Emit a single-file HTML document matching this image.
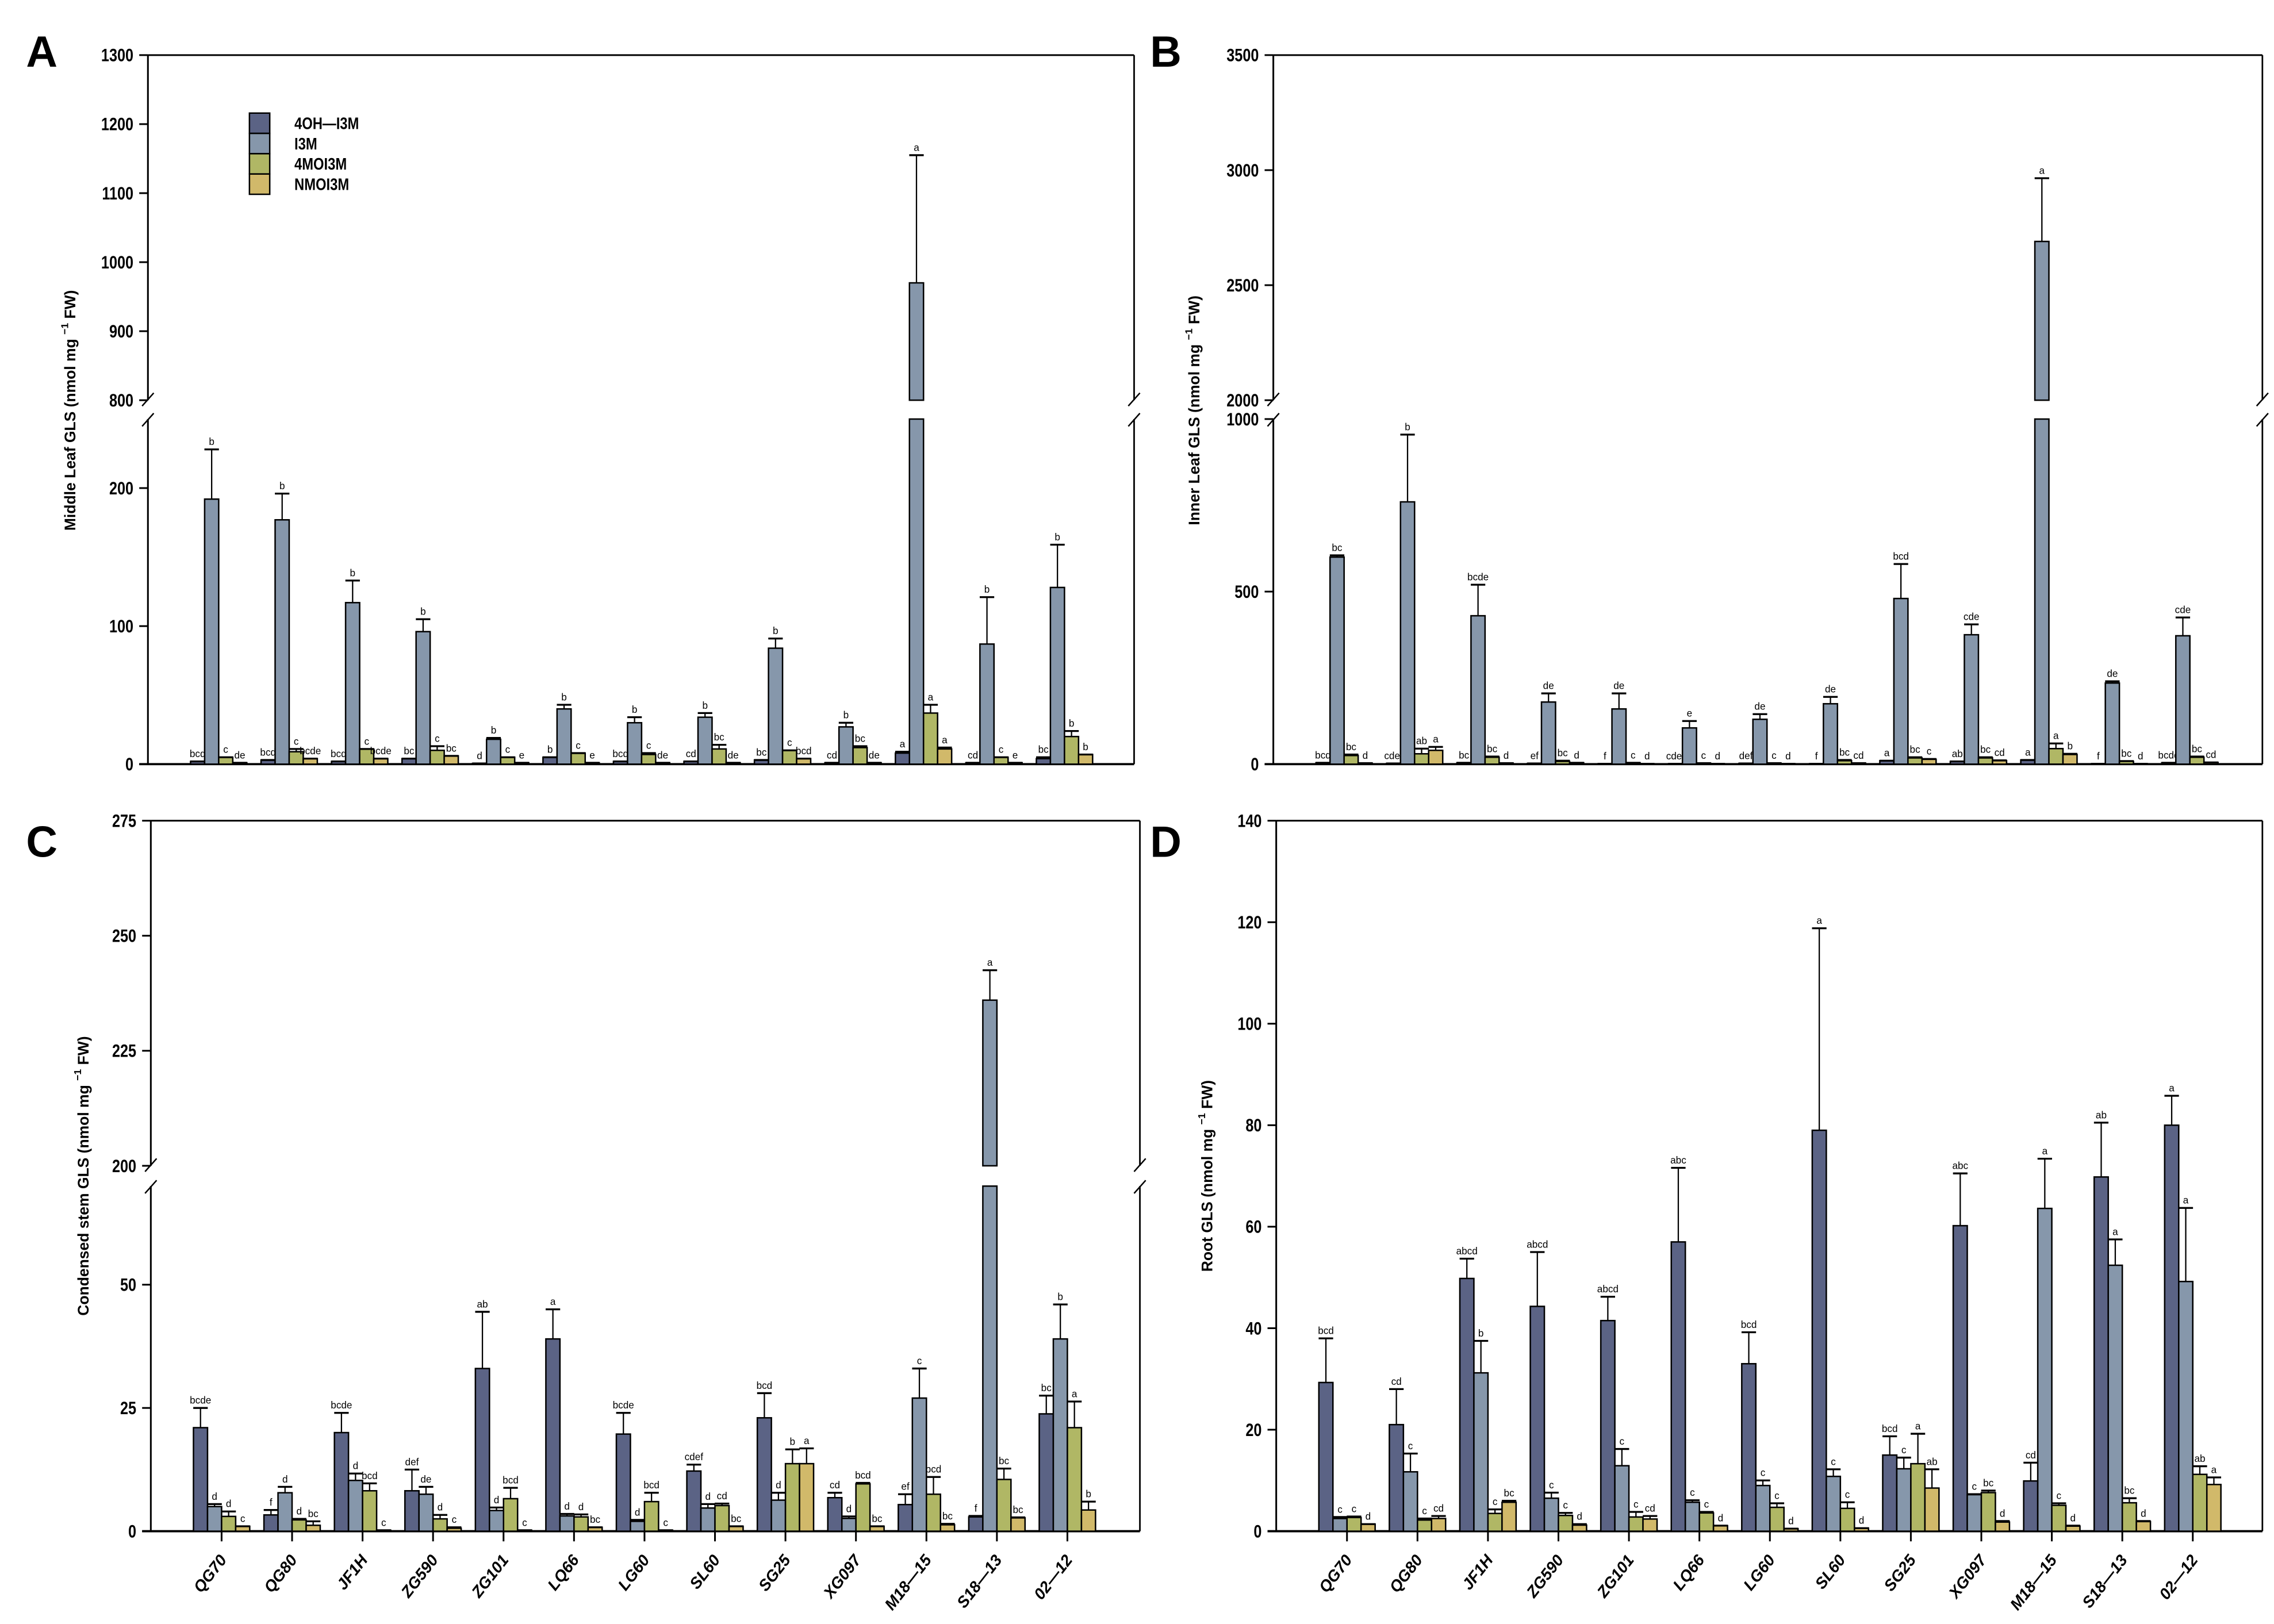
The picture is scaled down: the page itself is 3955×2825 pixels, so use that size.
<!DOCTYPE html>
<html><head><meta charset="utf-8"><style>
html,body{margin:0;padding:0;background:#fff;}
svg{display:block;}
text{font-family:"Liberation Sans",sans-serif;}
</style></head><body>
<svg id="fig" xmlns="http://www.w3.org/2000/svg" width="3955" height="2825" viewBox="0 0 1568 1120" preserveAspectRatio="none">
<rect x="0" y="0" width="1568" height="1120" fill="#fff"/>
</svg>
<script>
const categories = ["QG70","QG80","JF1H","ZG590","ZG101","LQ66","LG60","SL60","SG25","XG097","M18\u201415","S18\u201413","02\u201412"];
const seriesNames = ["4OH\u2014I3M","I3M","4MOI3M","NMOI3M"];
// Panel A: Middle leaf
const aOH = [2,3,2,4,0.5,5,2,2,3,1,8,1,4];
const aI3M = [192,177,117,96,18,40,30,34,84,27,970,87,128];
const aMO = [5,9,11,10,5,8,7,11,10,12,37,5,20];
const aNMO = [1,4,4,6,1,1,1,1,4,1,11,1,7];
const aOHe = [2,3,2,4,0.5,5,2,2,3,1,9,1,5];
const aI3Me = [228,196,133,105,19,43,34,37,91,30,1155,121,159];
const aMOe = [5,11,11,13,5,8,8,14,10,13,43,5,24];
const aNMOe = [1,4,4,6,1,1,1,1,4,1,12,1,7];
const aLetters = [["bcd","b","c","de"],["bcd","b","c","bcde"],["bcd","b","c","bcde"],["bc","b","c","bc"],["d","b","c","e"],["b","b","c","e"],["bcd","b","c","de"],["cd","b","bc","de"],["bc","b","c","bcd"],["cd","b","bc","de"],["a","a","a","a"],["cd","b","c","e"],["bc","b","b","b"]];
// Panel B: Inner leaf
const bOH = [4,2,4,2,1,1,2,1,10,8,12,1,4];
const bI3M = [600,760,430,180,160,105,130,175,480,375,2690,235,372];
const bMO = [25,30,20,8,4,3,3,10,18,18,45,8,20];
const bNMO = [3,40,3,4,1,1,1,3,14,10,28,1,5];
const bOHe = [4,2,4,2,1,1,2,1,10,8,12,1,4];
const bI3Me = [605,955,520,205,205,125,145,195,580,405,2965,240,425];
const bMOe = [28,45,22,10,4,3,3,12,20,20,60,9,22];
const bNMOe = [3,50,3,4,1,1,1,3,15,11,30,1,5];
const bLetters = [["bcd","bc","bc","d"],["cdef","b","ab","a"],["bc","bcde","bc","d"],["ef","de","bc","d"],["f","de","c","d"],["cdef","e","c","d"],["def","de","c","d"],["f","de","bc","cd"],["a","bcd","bc","c"],["ab","cde","bc","cd"],["a","a","a","b"],["f","de","bc","d"],["bcde","cde","bc","cd"]];
// Panel C: Condensed stem
const cOH = [21,3.3,20,8.2,33,39,19.7,12.2,23,6.8,5.4,2.9,23.8];
const cI3M = [5,7.8,10.3,7.5,4.2,3.1,2,4.7,6.3,2.6,27,236,39];
const cMO = [3,2.3,8.2,2.5,6.6,2.9,6,5.2,13.7,9.6,7.5,10.5,21];
const cNMO = [1,1.2,0.2,0.6,0.2,0.8,0.2,1,13.7,1,1.3,2.7,4.3];
const cOHe = [25,4.3,24,12.5,44.5,45,24,13.5,28,7.8,7.5,3.1,27.5];
const cI3Me = [5.5,9,11.7,9,4.8,3.5,2.3,5.5,7.8,3,33,242.5,46];
const cMOe = [4,2.5,9.7,3.3,8.8,3.4,7.8,5.6,16.6,9.8,11,12.7,26.3];
const cNMOe = [1,2,0.2,0.8,0.2,0.8,0.2,1,16.8,1,1.5,2.8,6];
const cLetters = [["bcde","d","d","c"],["f","d","d","bc"],["bcde","d","bcd","c"],["def","de","d","c"],["ab","d","bcd","c"],["a","d","d","bc"],["bcde","d","bcd","c"],["cdef","d","cd","bc"],["bcd","d","b","a"],["cd","d","bcd","bc"],["ef","c","bcd","bc"],["f","a","bc","bc"],["bc","b","a","b"]];
// Panel D: Root
const dOH = [29.3,21,49.8,44.3,41.5,57,33,79,15,60.2,9.9,69.8,80];
const dI3M = [2.5,11.7,31.2,6.5,12.9,5.7,9,10.8,12.3,7.2,63.6,52.4,49.2];
const dMO = [2.7,2.2,3.5,3.1,2.8,3.6,4.7,4.5,13.3,7.6,5.1,5.6,11.2];
const dNMO = [1.4,2.5,5.7,1.2,2.4,1.1,0.5,0.6,8.5,1.8,1,1.9,9.2];
const dOHe = [38,28,53.7,55,46.2,71.6,39.2,118.8,18.7,70.5,13.5,80.5,85.8];
const dI3Me = [2.8,15.3,37.5,7.6,16.2,6.1,10,12.2,14.5,7.3,73.4,57.5,63.7];
const dMOe = [2.9,2.5,4.3,3.6,3.8,3.8,5.5,5.7,19.2,8,5.5,6.5,12.8];
const dNMOe = [1.4,3,6,1.4,3,1.1,0.5,0.6,12.2,2,1.1,2,10.6];
const dLetters = [["bcd","c","c","d"],["cd","c","c","cd"],["abcd","b","c","bc"],["abcd","c","c","d"],["abcd","c","c","cd"],["abc","c","c","d"],["bcd","c","c","d"],["a","c","c","d"],["bcd","c","a","ab"],["abc","c","bc","d"],["cd","a","c","d"],["ab","a","bc","d"],["a","a","ab","a"]];
const aTicksLow = [0,100,200], aTicksHigh = [800,900,1000,1100,1200,1300];
const bTicksLow = [0,500,1000], bTicksHigh = [2000,2500,3000,3500];
const cTicksLow = [0,25,50], cTicksHigh = [200,225,250,275];
const dTicks = [0,20,40,60,80,100,120,140];

const colors = ["#5b6385","#8697ab","#b0b765","#d1b96a"];
const NS = "http://www.w3.org/2000/svg";
const svg = document.getElementById("fig");
function mk(tag, attrs, parent, txt){
  const e = document.createElementNS(NS, tag);
  for (const k in attrs) e.setAttribute(k, attrs[k]);
  if (txt !== undefined) e.textContent = txt;
  (parent || svg).appendChild(e);
  return e;
}
function line(x1,y1,x2,y2,w,p){ return mk("line",{x1:x1,y1:y1,x2:x2,y2:y2,stroke:"#000","stroke-width":w||1.1},p); }

function drawPanel(cfg){
  const g = mk("g",{});
  
  
  const segs = cfg.segs;
  function yScale(v){
    for (let i=0;i<segs.length;i++){ const s=segs[i]; if (v<=s.vmax || i===segs.length-1){ return s.yb - (Math.max(v,s.vmin)-s.vmin)/(s.vmax-s.vmin)*(s.yb-s.yt); } }
  }
  const x0 = cfg.x0, xr = cfg.xr;
  const ax = mk("g",{},g);
  
  
  segs.forEach(s=>{ line(x0,s.yb,x0,s.yt,1.2,ax); line(xr,s.yb,xr,s.yt,1.1,ax); });
  line(x0,segs[segs.length-1].yt,xr,segs[segs.length-1].yt,1.2,ax);
  const xa = line(x0-6,segs[0].yb,xr,segs[0].yb,1.5,g);
  
  
  if (segs.length>1){
    const gt = segs[0].yt, gb = segs[1].yb;
    [x0,xr].forEach(xx=>{
      const b1 = line(xx-4,gb+4,xx+4,gb-5,1,g);
      
      
      const b2 = line(xx-4,gt+5,xx+4,gt-4,1,g);
      
      
    });
  }
  cfg.ticks.forEach(t=>{
    const y = yScale(t);
    line(x0-6,y,x0,y,1.2,g);
    const tl = mk("text",{x:x0-10,y:y+4.3,"font-size":12.5,"font-weight":"bold","text-anchor":"end",transform:"translate("+(x0-10)+",0) scale(0.8,1) translate("+(-(x0-10))+",0)"},g,String(t));
    
    
  });
  const cy = cfg.titleY;
  const tt = mk("text",{x:cfg.titleX,y:cy,"font-size":10.5,"font-weight":"bold","text-anchor":"middle",transform:"rotate(-90 "+cfg.titleX+" "+cy+")"},g);
  
  
  mk("tspan",{},tt,cfg.title+" (nmol mg ");
  mk("tspan",{"font-size":7,dy:-5},tt,"\u22121");
  mk("tspan",{dy:5},tt," FW)");
  const pl = mk("text",{x:cfg.lx,y:cfg.ly,"font-size":30,"font-weight":"bold"},g,cfg.letter);
  
  
  const means = cfg.means, errs = cfg.errs;
  categories.forEach((cat,i)=>{
    const cx = x0 + 48.8 + 48.6*i;
    const gg = mk("g",{},g);
    
    
    for (let j=0;j<4;j++){
      const v = means[j][i], e = errs[j][i];
      const bx = cx - 19.4 + 9.7*j, bw = 9.7;
      const y0 = segs[0].yb;
      if (segs.length>1 && v>segs[0].vmax){
        const r1 = mk("rect",{x:bx,y:segs[0].yt,width:bw,height:y0-segs[0].yt,fill:colors[j],stroke:"#000","stroke-width":1},gg);
        
        
        const yv = yScale(v);
        const r2 = mk("rect",{x:bx,y:yv,width:bw,height:segs[1].yb-yv,fill:colors[j],stroke:"#000","stroke-width":1},gg);
        
        
      } else {
        const yv = yScale(v);
        const r = mk("rect",{x:bx,y:yv,width:bw,height:Math.max(y0-yv,0.3),fill:colors[j],stroke:"#000","stroke-width":1},gg);
        
        
      }
      const yv = yScale(v), ye = yScale(e);
      const bc = bx + bw/2;
      if (ye < yv - 0.5){ line(bc,yv,bc,ye,0.9,gg); }
      const cap = line(bc-5,ye,bc+5,ye,1.3,gg);
      
      
      const lt = mk("text",{x:bc,y:ye-3,"font-size":6.8,"text-anchor":"middle"},gg,cfg.letters[i][j]);
      
      
    }
    if (cfg.xlabels){
      line(cx,segs[0].yb,cx,segs[0].yb+7,1.2,gg);
      const xl = mk("text",{x:cx+4,y:segs[0].yb+20,"font-size":11,"font-weight":"bold","font-style":"italic","text-anchor":"end",transform:"rotate(-52 "+(cx+4)+" "+(segs[0].yb+20)+")"},gg,cat);
      
      
    }
  });
}

drawPanel({name:"panel-a-middle-leaf",letter:"A",lx:18,ly:46,x0:102,xr:782,
  segs:[{vmin:0,vmax:250,yb:527,yt:289},{vmin:800,vmax:1300,yb:276,yt:38}],
  ticks:aTicksLow.concat(aTicksHigh),title:"Middle Leaf GLS",titleX:52,titleY:283,
  means:[aOH,aI3M,aMO,aNMO],errs:[aOHe,aI3Me,aMOe,aNMOe],letters:aLetters,xlabels:false});
drawPanel({name:"panel-b-inner-leaf",letter:"B",lx:793,ly:46,x0:878,xr:1560,
  segs:[{vmin:0,vmax:1000,yb:527,yt:289},{vmin:2000,vmax:3500,yb:276,yt:38}],
  ticks:bTicksLow.concat(bTicksHigh),title:"Inner Leaf GLS",titleX:827,titleY:283,
  means:[bOH,bI3M,bMO,bNMO],errs:[bOHe,bI3Me,bMOe,bNMOe],letters:bLetters,xlabels:false});
drawPanel({name:"panel-c-condensed-stem",letter:"C",lx:18,ly:591,x0:104,xr:786,
  segs:[{vmin:0,vmax:70,yb:1056,yt:818},{vmin:200,vmax:275,yb:804,yt:566}],
  ticks:cTicksLow.concat(cTicksHigh),title:"Condensed stem GLS",titleX:61,titleY:811,
  means:[cOH,cI3M,cMO,cNMO],errs:[cOHe,cI3Me,cMOe,cNMOe],letters:cLetters,xlabels:true});
drawPanel({name:"panel-d-root",letter:"D",lx:793,ly:591,x0:880,xr:1560,
  segs:[{vmin:0,vmax:140,yb:1056,yt:566}],
  ticks:dTicks,title:"Root GLS",titleX:836,titleY:811,
  means:[dOH,dI3M,dMO,dNMO],errs:[dOHe,dI3Me,dMOe,dNMOe],letters:dLetters,xlabels:true});

const lg = mk("g",{});


seriesNames.forEach((n,j)=>{
  const y = 78 + 14*j;
  const r = mk("rect",{x:172,y:y,width:14,height:14,fill:colors[j],stroke:"#000","stroke-width":1},lg);
  
  
  const t = mk("text",{x:203,y:y+11,"font-size":11.5,"font-weight":"bold",transform:"translate(203,0) scale(0.82,1) translate(-203,0)"},lg,n);
  
  
});
</script>
</body></html>
